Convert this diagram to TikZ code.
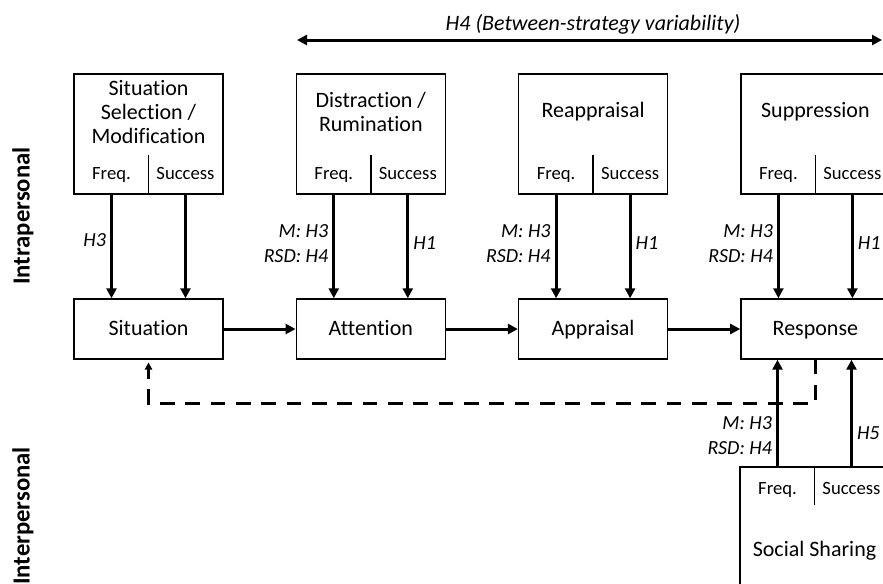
\documentclass[tikz,border=0pt]{standalone}
\usepackage{fontspec}
\setmainfont{Carlito}[Ligatures=NoCommon]
\usepackage{tikz}
\usetikzlibrary{arrows.meta,calc}

\begin{document}
\begin{tikzpicture}[x=0.75pt,y=-0.75pt]

    \tikzset{Estrategia/.style = {shape=rectangle,draw,line width=1.1pt,minimum width=111.75pt,minimum height=90pt,inner sep=0pt}}
    \tikzset{Etapa/.style = {shape=rectangle,draw,line width=1.1pt,minimum width=111.75pt,minimum height=45pt,text height=12pt,text depth=3pt,font=\fontsize{16.5}{18}\selectfont}}
    \tikzset{titulo/.style = {align=center,inner sep=0pt,font=\fontsize{16.5}{18}\selectfont}}
    \tikzset{celda/.style = {inner sep=0pt,text height=10pt,text depth=3pt,font=\fontsize{14}{15}\selectfont}}
    \tikzset{lado/.style = {rotate=90,inner sep=0pt,font=\fontsize{18.5}{20}\selectfont\bfseries}}
    \tikzset{hipo/.style = {align=right,inner sep=3pt,font=\fontsize{15}{18.75}\selectfont\itshape}}
    \tikzset{flecha/.style = {-{Triangle[length=7.5pt,width=7.5pt]},line width=2.25pt}}
    \tikzset{retro/.style = {-{Triangle[length=5.5pt,width=5.5pt]},line width=2.25pt,dash pattern=on 11pt off 8pt,shorten >=2pt}}

    \clip (0,0) rectangle (883,583);
    \useasboundingbox (0,0) rectangle (883,583);


    % side labels
    \node [lado] (intra) at (23,216) {Intrapersonal};
    \node [lado] (inter) at (23,516) {Interpersonal};


    % between-strategy arrow
    \coordinate (h4izq) at (297,40);
    \coordinate (h4der) at (882,40);
    \draw [{Triangle[length=7.5pt,width=7.5pt]}-{Triangle[length=7.5pt,width=7.5pt]},line width=2.25pt] (h4izq)
        -- (h4der);
    \node [hipo,font=\fontsize{16.5}{18}\selectfont\itshape] (h4) at (593,24) {H4 (Between-strategy variability)};


    % strategies
    \node [Estrategia] (estr1) at (148.5,134) {};
    \node [titulo] (tit1) at (148.5,112) {Situation\\Selection /\\Modification};
    \node [Estrategia] (estr2) at (370.8,134) {};
    \node [titulo] (tit2) at (370.8,112) {Distraction /\\Rumination};
    \node [Estrategia] (estr3) at (593.1,134) {};
    \node [titulo] (tit3) at (593.1,112) {Reappraisal};
    \node [Estrategia] (estr4) at (815.4,134) {};
    \node [titulo] (tit4) at (815.4,112) {Suppression};

    \foreach \i in {1,...,4} {
        \draw [line width=1.1pt] (estr\i.south) -- ++(0,-40);
        \node [celda] (frec\i) at ($(estr\i.south)+(-37,-20)$) {Freq.};
        \node [celda] (exito\i) at ($(estr\i.south)+(37,-20)$) {Success};
    }


    % process
    \node [Etapa] (situacion) at (148.5,329) {Situation};
    \node [Etapa] (atencion) at (370.8,329) {Attention};
    \node [Etapa] (valoracion) at (593.1,329) {Appraisal};
    \node [Etapa] (respuesta) at (815.4,329) {Response};

    \draw [flecha] (situacion)
        to (atencion);
    \draw [flecha] (atencion)
        to (valoracion);
    \draw [flecha] (valoracion)
        to (respuesta);


    % strategy -> stage
    \draw [flecha] (frec1 |- estr1.south)
        to node[hipo,left,pos=0.44] {H3} (frec1 |- situacion.north);
    \draw [flecha] (exito1 |- estr1.south)
        to (exito1 |- situacion.north);

    \draw [flecha] (frec2 |- estr2.south)
        to node[hipo,left,pos=0.47] {M: H3\\RSD: H4} (frec2 |- atencion.north);
    \draw [flecha] (exito2 |- estr2.south)
        to node[hipo,right,pos=0.47] {H1} (exito2 |- atencion.north);

    \draw [flecha] (frec3 |- estr3.south)
        to node[hipo,left,pos=0.47] {M: H3\\RSD: H4} (frec3 |- valoracion.north);
    \draw [flecha] (exito3 |- estr3.south)
        to node[hipo,right,pos=0.47] {H1} (exito3 |- valoracion.north);

    \draw [flecha] (frec4 |- estr4.south)
        to node[hipo,left,pos=0.47] {M: H3\\RSD: H4} (frec4 |- respuesta.north);
    \draw [flecha] (exito4 |- estr4.south)
        to node[hipo,right,pos=0.47] {H1} (exito4 |- respuesta.north);


    % feedback
    \coordinate (retroBajo) at (815.4,403);
    \draw [retro] (respuesta.south)
        -- (retroBajo) -| (situacion.south);


    % social sharing
    \node [Estrategia] (social) at (814.5,527) {};
    \node [titulo] (titSocial) at (814.5,551) {Social Sharing};
    \draw [line width=1.1pt] (social.north)
        -- ++(0,39);
    \node [celda] (frecSocial) at (777.5,490) {Freq.};
    \node [celda] (exitoSocial) at (851.5,490) {Success};

    \draw [flecha] (frecSocial |- social.north)
        to node[hipo,left,pos=0.29] {M: H3\\RSD: H4} (frecSocial |- respuesta.south);
    \draw [flecha] (exitoSocial |- social.north)
        to node[hipo,right,pos=0.31] {H5} (exitoSocial |- respuesta.south);

\end{tikzpicture}
\end{document}
